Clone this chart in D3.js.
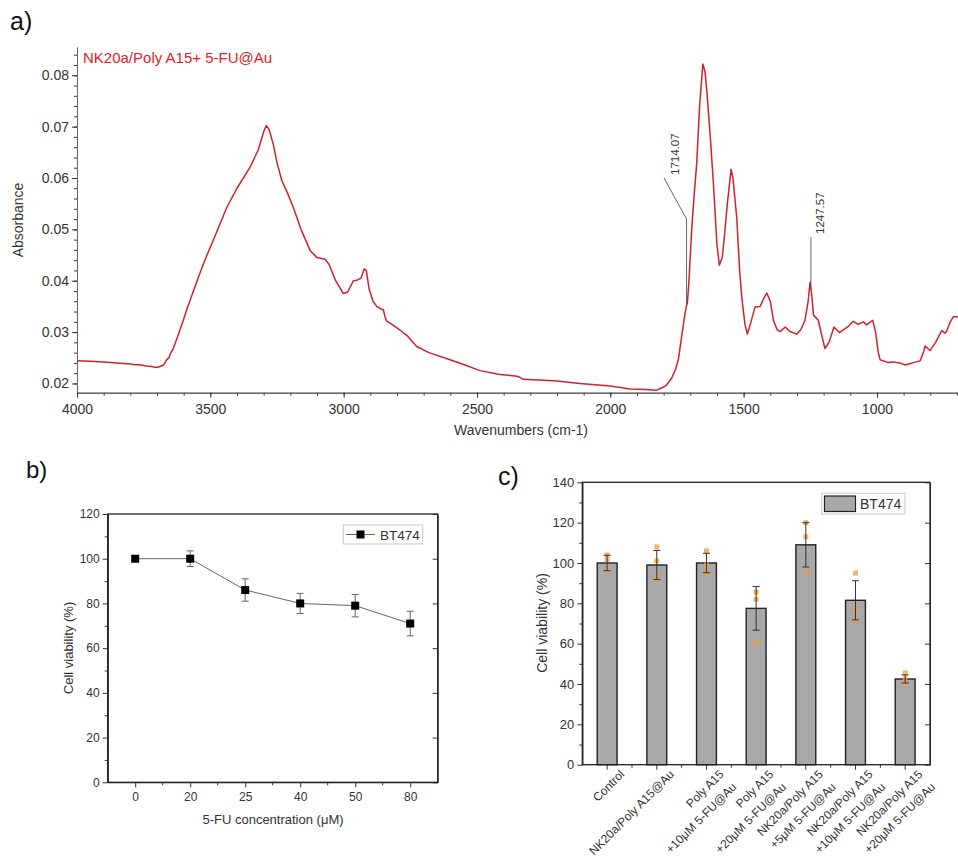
<!DOCTYPE html>
<html>
<head>
<meta charset="utf-8">
<script src="https://cdn.jsdelivr.net/npm/d3@7"></script>
<style>
body { margin: 0; background: #fff; }
text { font-family: "Liberation Sans", Arial, sans-serif; }
</style>
</head>
<body>
<script>

// ---- a) FTIR spectrum ----
var wavenumbers = [4000,3950,3900,3850,3800,3790,3760,3740,3720,3700,3690,3675,3664,3655,3650,3639,3620,3600,3589,3560,
	3526,3480,3438,3400,3351,3320,3300,3290,3280,3264,3250,3232,3210,3189,3160,3126,3100,3070,3055,3030,
	3001,2985,2963,2950,2935,2923,2915,2905,2890,2876,2860,2851,2845,2839,2800,2789,2760,2726,2680,2601,
	2550,2489,2420,2350,2340,2326,2250,2200,2114,2000,1926,1870,1826,1800,1789,1770,1755,1745,1730,1720,
	1714,1711,1705,1695,1685,1676,1665,1653,1645,1638,1625,1614,1600,1591,1580,1570,1561,1547,1540,1526,
	1515,1507,1495,1486,1475,1457,1438,1425,1413,1400,1388,1375,1363,1344,1326,1301,1285,1270,1258,1251,
	1244,1238,1220,1210,1195,1180,1161,1141,1110,1089,1070,1051,1039,1016,1005,995,988,960,938,915,
	894,860,838,826,819,801,780,757,745,739,725,713,696];
var absorbance = [0.0244,0.0243,0.0242,0.0240,0.0238,0.0237,0.0236,0.0234,0.0233,0.0231,0.0233,0.0236,0.0246,0.0250,0.0258,0.0268,0.0295,0.0325,0.0343,0.0385,
	0.0433,0.0490,0.0543,0.0580,0.0621,0.0655,0.0690,0.0702,0.0695,0.0666,0.0630,0.0595,0.0570,0.0543,0.0500,0.0459,0.0445,0.0442,0.0432,0.0400,
	0.0375,0.0378,0.0400,0.0401,0.0405,0.0423,0.0420,0.0385,0.0360,0.0350,0.0345,0.0343,0.0330,0.0322,0.0308,0.0304,0.0292,0.0272,0.0260,0.0246,
	0.0237,0.0225,0.0218,0.0214,0.0212,0.0208,0.0206,0.0205,0.0200,0.0195,0.0189,0.0188,0.0187,0.0193,0.0197,0.0210,0.0228,0.0246,0.0300,0.0336,
	0.0352,0.0356,0.0400,0.0498,0.0570,0.0628,0.0740,0.0822,0.0808,0.0770,0.0680,0.0595,0.0470,0.0430,0.0445,0.0498,0.0550,0.0617,0.0600,0.0524,
	0.0420,0.0369,0.0315,0.0296,0.0315,0.0349,0.0350,0.0365,0.0376,0.0360,0.0323,0.0305,0.0301,0.0310,0.0301,0.0296,0.0305,0.0323,0.0360,0.0397,
	0.0370,0.0333,0.0323,0.0300,0.0268,0.0280,0.0310,0.0299,0.0310,0.0321,0.0315,0.0320,0.0314,0.0323,0.0300,0.0260,0.0246,0.0241,0.0242,0.0240,
	0.0236,0.0241,0.0244,0.0260,0.0273,0.0264,0.0280,0.0303,0.0298,0.0301,0.0320,0.0330,0.0330];
var peakMarks = [1714.07, 1247.57];
var absTicks = [0.02, 0.03, 0.04, 0.05, 0.06, 0.07, 0.08];
var wnTicks = [4000, 3500, 3000, 2500, 2000, 1500, 1000];

// ---- b) viability vs 5-FU ----
var concentrations = ["0", "20", "25", "40", "50", "80"];
var viabilityB = [100, 100, 86, 80, 79, 71];
var errorB = [0, 3.5, 5, 4.5, 5, 5.5];

// ---- c) viability per treatment ----
var groups = [["Control"], ["NK20a/Poly A15@Au"], ["Poly A15", "+10\u03bcM 5-FU@Au"], ["Poly A15", "+20\u03bcM 5-FU@Au"],
	["NK20a/Poly A15", "+5\u03bcM 5-FU@Au"], ["NK20a/Poly A15", "+10\u03bcM 5-FU@Au"], ["NK20a/Poly A15", "+20\u03bcM 5-FU@Au"]];
var viabilityC = [100, 99, 100, 77.5, 109, 81.5, 42.5];
var errorC = [3.8, 7.2, 4.8, 10.8, 11, 9.7, 2];
var replicatesC = [[104, 101.5, 96.5], [108, 101, 93], [106, 99, 95], [85.5, 82, 60.5], [120, 113, 95], [95, 77, 72], [45.5, 42.5, 40.5]];

var w = 958;
var h = 858;
var ink = "#333";

var svg = d3.select("body")
	.append("svg")
	.attr("width", w)
	.attr("height", h);

function panelLetter(txt, x, y, size){
	svg.append("text").text(txt)
		.attr("x", x).attr("y", y)
		.attr("font-size", size)
		.attr("fill", "#111");
}

function styleAxis(g, size){
	g.selectAll("path,line").attr("stroke", ink);
	g.selectAll("text").attr("fill", ink).attr("font-size", size).style("font-family", "'Liberation Sans', Arial, sans-serif");
}

// ================= a) =================
panelLetter("a)", 10, 30, 25);

var xA = d3.scaleLinear().domain([4000, 696]).range([77, 958]);
var yA = d3.scaleLinear().domain([0.0182, 0.0855]).range([392.7, 47]);

var minorAbs = d3.range(0.02, 0.0851, 0.002);
var minorWn = d3.range(4000, 690, -100);

svg.append("g").attr("transform", "translate(77,0)")
	.call(d3.axisLeft(yA).tickValues(minorAbs).tickSize(3).tickFormat("").tickSizeOuter(0))
	.call(styleAxis, 14);
var gAy = svg.append("g").attr("transform", "translate(77,0)")
	.call(d3.axisLeft(yA).tickValues(absTicks).tickFormat(d3.format(".2f")).tickSize(5).tickPadding(3).tickSizeOuter(0))
	.call(styleAxis, 14);
gAy.select(".domain").attr("stroke", "#666");

svg.append("g").attr("transform", "translate(0,392.7)")
	.call(d3.axisBottom(xA).tickValues(minorWn).tickSize(3).tickFormat("").tickSizeOuter(0))
	.call(styleAxis, 14);
var gAx = svg.append("g").attr("transform", "translate(0,392.7)")
	.call(d3.axisBottom(xA).tickValues(wnTicks).tickFormat(d3.format("d")).tickSize(5).tickPadding(6).tickSizeOuter(0))
	.call(styleAxis, 14);
gAx.select(".domain").attr("stroke", "#666");

svg.append("text").text("Absorbance")
	.attr("transform", "translate(23,220) rotate(-90)")
	.attr("text-anchor", "middle")
	.attr("font-size", 14).attr("fill", ink);
svg.append("text").text("Wavenumbers (cm-1)")
	.attr("x", 521).attr("y", 435)
	.attr("text-anchor", "middle")
	.attr("font-size", 14).attr("fill", ink);

var spectrum = wavenumbers.map(function(d, i){ return [d, absorbance[i]]; });
var lineA = d3.line()
	.x(function(d){ return xA(d[0]); })
	.y(function(d){ return yA(d[1]); });

svg.append("path")
	.datum(spectrum)
	.attr("d", lineA)
	.attr("fill", "none")
	.attr("stroke", "#d0222a")
	.attr("stroke-width", 1.5)
	.attr("stroke-linejoin", "round");

svg.append("text").text("NK20a/Poly A15+ 5-FU@Au")
	.attr("x", 83).attr("y", 63)
	.attr("font-size", 15)
	.attr("fill", "#e3202a");

// peak annotations
function absAt(wn){
	return d3.scaleLinear().domain(wavenumbers).range(absorbance)(wn);
}
var px1 = xA(peakMarks[0]);
var py1 = yA(absAt(peakMarks[0]));
svg.append("polyline")
	.attr("points", [[px1, py1], [px1, 219], [664, 178]].join(" "))
	.attr("fill", "none").attr("stroke", "#555").attr("stroke-width", 0.9);
svg.append("text").text(peakMarks[0].toFixed(2))
	.attr("transform", "translate(679,175) rotate(-90)")
	.attr("font-size", 11.5).attr("fill", ink);

var px2 = xA(peakMarks[1]);
var py2 = yA(absAt(peakMarks[1]));
svg.append("line")
	.attr("x1", px2).attr("x2", px2)
	.attr("y1", py2).attr("y2", 237)
	.attr("stroke", "#555").attr("stroke-width", 0.9);
svg.append("text").text(peakMarks[1].toFixed(2))
	.attr("transform", "translate(" + (px2 + 13) + ",234) rotate(-90)")
	.attr("font-size", 11.5).attr("fill", ink);

// ================= b) =================
panelLetter("b)", 26, 478, 24);

var xB = d3.scalePoint().domain(concentrations).range([107.7, 437.7]).padding(0.5);
var yB = d3.scaleLinear().domain([0, 120]).range([782.3, 514]);

svg.append("g").attr("transform", "translate(107.7,0)")
	.call(d3.axisLeft(yB).tickValues(d3.range(10, 120, 20)).tickSize(3).tickFormat("").tickSizeOuter(0))
	.call(styleAxis, 12);
svg.append("g").attr("transform", "translate(107.7,0)")
	.call(d3.axisLeft(yB).tickValues(d3.range(0, 121, 20)).tickSize(5).tickPadding(3).tickSizeOuter(0))
	.call(styleAxis, 12);
svg.append("g").attr("transform", "translate(437.7,0)")
	.call(d3.axisLeft(yB).tickValues(d3.range(0, 121, 20)).tickSize(5).tickFormat("").tickSizeOuter(0))
	.call(styleAxis, 12);

var midB = concentrations.slice(1).map(function(d){ return xB(d) - xB.step() / 2; });
svg.selectAll(".minorB")
	.data(midB)
	.enter()
	.append("line")
	.attr("x1", function(d){ return d; })
	.attr("x2", function(d){ return d; })
	.attr("y1", 782.3).attr("y2", 785.3)
	.attr("stroke", ink);
svg.append("g").attr("transform", "translate(0,782.3)")
	.call(d3.axisBottom(xB).tickSize(5).tickPadding(5).tickSizeOuter(0))
	.call(styleAxis, 12);

svg.append("rect")
	.attr("x", 107.7).attr("y", 514)
	.attr("width", 330).attr("height", 268.3)
	.attr("fill", "none").attr("stroke", "#222").attr("stroke-width", 1.3);

svg.append("text").text("Cell viability (%)")
	.attr("transform", "translate(73,648) rotate(-90)")
	.attr("text-anchor", "middle")
	.attr("font-size", 13).attr("fill", ink);
svg.append("text").text("5-FU concentration (\u03bcM)")
	.attr("x", 273).attr("y", 824)
	.attr("text-anchor", "middle")
	.attr("font-size", 13).attr("fill", ink);

var pointsB = concentrations.map(function(d, i){ return [d, viabilityB[i], errorB[i]]; });

svg.append("path")
	.datum(pointsB)
	.attr("d", d3.line()
		.x(function(d){ return xB(d[0]); })
		.y(function(d){ return yB(d[1]); }))
	.attr("fill", "none").attr("stroke", "#666").attr("stroke-width", 1);

var errB = svg.selectAll(".errB")
	.data(pointsB.filter(function(d){ return d[2] > 0; }))
	.enter()
	.append("g")
	.attr("stroke", "#666").attr("stroke-width", 1);
errB.append("line")
	.attr("x1", function(d){ return xB(d[0]); })
	.attr("x2", function(d){ return xB(d[0]); })
	.attr("y1", function(d){ return yB(d[1] - d[2]); })
	.attr("y2", function(d){ return yB(d[1] + d[2]); });
errB.selectAll("line.cap")
	.data(function(d){ return [[d[0], d[1] - d[2]], [d[0], d[1] + d[2]]]; })
	.enter()
	.append("line")
	.attr("x1", function(d){ return xB(d[0]) - 3.5; })
	.attr("x2", function(d){ return xB(d[0]) + 3.5; })
	.attr("y1", function(d){ return yB(d[1]); })
	.attr("y2", function(d){ return yB(d[1]); });

svg.selectAll(".markB")
	.data(pointsB)
	.enter()
	.append("rect")
	.attr("x", function(d){ return xB(d[0]) - 4; })
	.attr("y", function(d){ return yB(d[1]) - 4; })
	.attr("width", 8).attr("height", 8)
	.attr("fill", "#000");

// legend b
svg.append("rect")
	.attr("x", 343.3).attr("y", 525)
	.attr("width", 79.4).attr("height", 19)
	.attr("fill", "#fff").attr("stroke", "#c8c8c8");
svg.append("line")
	.attr("x1", 346).attr("x2", 375)
	.attr("y1", 534.5).attr("y2", 534.5)
	.attr("stroke", "#666");
svg.append("rect")
	.attr("x", 356.5).attr("y", 530.5)
	.attr("width", 8).attr("height", 8)
	.attr("fill", "#000");
svg.append("text").text("BT474")
	.attr("x", 380).attr("y", 539.5)
	.attr("font-size", 13.5).attr("fill", ink);

// ================= c) =================
panelLetter("c)", 498, 485, 25);

var idx = groups.map(function(d, i){ return String(i); });
var xC = d3.scaleBand().domain(idx).range([582.3, 930]).paddingInner(0.6).paddingOuter(0.3);
var yC = d3.scaleLinear().domain([0, 140]).range([764.7, 482.3]);

svg.append("g").attr("transform", "translate(582.3,0)")
	.call(d3.axisLeft(yC).tickValues(d3.range(10, 140, 20)).tickSize(3).tickFormat("").tickSizeOuter(0))
	.call(styleAxis, 13);
svg.append("g").attr("transform", "translate(582.3,0)")
	.call(d3.axisLeft(yC).tickValues(d3.range(0, 141, 20)).tickSize(5).tickPadding(3).tickSizeOuter(0))
	.call(styleAxis, 13);
svg.append("g").attr("transform", "translate(930,0)")
	.call(d3.axisLeft(yC).tickValues(d3.range(0, 141, 20)).tickSize(5).tickFormat("").tickSizeOuter(0))
	.call(styleAxis, 13);

var centersC = idx.map(function(d){ return xC(d) + xC.bandwidth() / 2; });
svg.selectAll(".majC")
	.data(centersC)
	.enter()
	.append("line")
	.attr("x1", function(d){ return d; })
	.attr("x2", function(d){ return d; })
	.attr("y1", 764.7).attr("y2", 769.7)
	.attr("stroke", ink);
svg.selectAll(".minC")
	.data(centersC.slice(1))
	.enter()
	.append("line")
	.attr("x1", function(d){ return d - xC.step() / 2; })
	.attr("x2", function(d){ return d - xC.step() / 2; })
	.attr("y1", 764.7).attr("y2", 767.7)
	.attr("stroke", ink);

svg.selectAll(".barC")
	.data(viabilityC)
	.enter()
	.append("rect")
	.attr("x", function(d, i){ return xC(idx[i]); })
	.attr("y", function(d){ return yC(d); })
	.attr("width", xC.bandwidth())
	.attr("height", function(d){ return yC(0) - yC(d); })
	.attr("fill", "#a8a8a8")
	.attr("stroke", "#222")
	.attr("stroke-width", 1.4);

// replicate points
viabilityC.forEach(function(v, i){
	svg.selectAll(".rep" + i)
		.data(replicatesC[i])
		.enter()
		.append("rect")
		.attr("x", centersC[i] - 2.5)
		.attr("y", function(d){ return yC(d) - 2.5; })
		.attr("width", 5).attr("height", 5)
		.attr("fill", "#f39a3a")
		.attr("opacity", 0.75);
});

var errC = svg.selectAll(".errC")
	.data(viabilityC)
	.enter()
	.append("g")
	.attr("stroke", "#333").attr("stroke-width", 1);
errC.append("line")
	.attr("x1", function(d, i){ return centersC[i]; })
	.attr("x2", function(d, i){ return centersC[i]; })
	.attr("y1", function(d, i){ return yC(d - errorC[i]); })
	.attr("y2", function(d, i){ return yC(d + errorC[i]); });
errC.append("line")
	.attr("x1", function(d, i){ return centersC[i] - 3.5; })
	.attr("x2", function(d, i){ return centersC[i] + 3.5; })
	.attr("y1", function(d, i){ return yC(d + errorC[i]); })
	.attr("y2", function(d, i){ return yC(d + errorC[i]); });
errC.append("line")
	.attr("x1", function(d, i){ return centersC[i] - 3.5; })
	.attr("x2", function(d, i){ return centersC[i] + 3.5; })
	.attr("y1", function(d, i){ return yC(d - errorC[i]); })
	.attr("y2", function(d, i){ return yC(d - errorC[i]); });

svg.append("rect")
	.attr("x", 582.3).attr("y", 482.3)
	.attr("width", 347.7).attr("height", 282.4)
	.attr("fill", "none").attr("stroke", "#222").attr("stroke-width", 1.3);

// rotated category labels
var labC = svg.selectAll(".labC")
	.data(groups)
	.enter()
	.append("text")
	.attr("transform", function(d, i){ return "translate(" + (centersC[i] + 18) + ",775) rotate(-45)"; })
	.attr("text-anchor", "end")
	.attr("font-size", 12)
	.attr("fill", ink);
labC.selectAll("tspan")
	.data(function(d){ return d; })
	.enter()
	.append("tspan")
	.attr("x", 0)
	.attr("y", function(d, j){ return j * 18; })
	.text(function(d){ return d; });

svg.append("text").text("Cell viability (%)")
	.attr("transform", "translate(547,623) rotate(-90)")
	.attr("text-anchor", "middle")
	.attr("font-size", 14).attr("fill", ink);

// legend c
svg.append("rect")
	.attr("x", 821.7).attr("y", 493.3)
	.attr("width", 83.3).attr("height", 20.7)
	.attr("fill", "#fff").attr("stroke", "#c8c8c8");
svg.append("rect")
	.attr("x", 824.5).attr("y", 496)
	.attr("width", 31).attr("height", 15.5)
	.attr("fill", "#a8a8a8").attr("stroke", "#222").attr("stroke-width", 1.2);
svg.append("text").text("BT474")
	.attr("x", 860).attr("y", 509)
	.attr("font-size", 14).attr("fill", ink);

</script>
</body>
</html>
